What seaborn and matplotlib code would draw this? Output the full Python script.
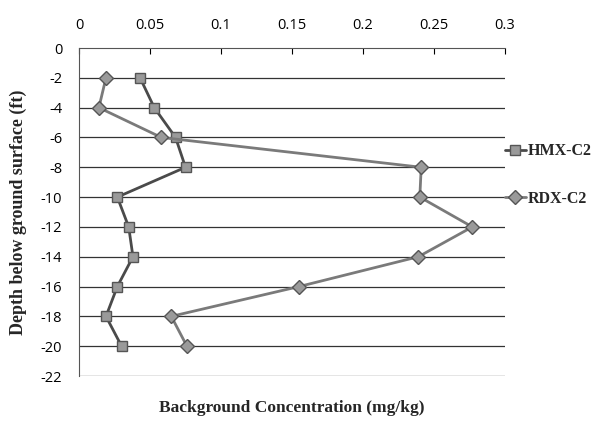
# depth profile of background HMX / RDX concentrations
import seaborn as sns
import pandas as pd
import matplotlib.pyplot as plt

depth = [-2, -4, -6, -8, -10, -12, -14, -16, -18, -20]
hmx = [0.043, 0.053, 0.068, 0.075, 0.027, 0.035, 0.038, 0.027, 0.019, 0.030]
rdx = [0.019, 0.014, 0.058, 0.241, 0.240, 0.277, 0.239, 0.155, 0.065, 0.076]
series = ["HMX-C2", "RDX-C2"]
xticks = [0, 0.05, 0.1, 0.15, 0.2, 0.25, 0.3]
xticklabels = ["0", "0.05", "0.1", "0.15", "0.2", "0.25", "0.3"]
yticks = list(range(0, -23, -2))

df = pd.DataFrame({
    "depth": depth * 2,
    "conc": hmx + rdx,
    "series": [series[0]] * len(depth) + [series[1]] * len(depth),
})

sns.set_style("white")
tick_font = ["Open Sans", "DejaVu Sans"]
label_font = ["Liberation Serif", "DejaVu Serif"]

fig = plt.figure(figsize=(5.94, 4.24), dpi=100)
ax = fig.add_axes([79/594, 1 - 376/424, 426/594, 328/424])

pal = {"HMX-C2": "#4a4a4a", "RDX-C2": "#7a7a7a"}
marks = {"HMX-C2": "s", "RDX-C2": "D"}
sns.lineplot(data=df, x="conc", y="depth", hue="series", style="series",
             palette=pal, markers=marks, dashes=False, sort=False,
             estimator=None, linewidth=2, markersize=7.5,
             markerfacecolor="#9a9a9a", markeredgecolor="#555555",
             markeredgewidth=1, ax=ax)

ax.set_xlim(0, 0.3)
ax.set_ylim(-22, 0)
ax.set_xticks(xticks)
ax.set_xticklabels(xticklabels, family=tick_font, fontsize=10.5)
ax.set_yticks(yticks)
ax.set_yticklabels([str(v) for v in yticks], family=tick_font, fontsize=10.5)
ax.xaxis.tick_top()
ax.tick_params(axis="x", direction="in", length=4, width=0.8, pad=11, colors="k")
ax.tick_params(axis="y", length=0, pad=12, colors="k")

for v in yticks[1:]:
    ax.axhline(v, color="#333333", linewidth=0.9, zorder=0)

for s in ["right", "bottom"]:
    ax.spines[s].set_visible(False)
for s in ["left", "top"]:
    ax.spines[s].set_color("#555555")
    ax.spines[s].set_linewidth(0.8)

ax.set_xlabel("")
ax.set_ylabel("")
fig.text(292/594, 1 - 408/424, "Background Concentration (mg/kg)",
         ha="center", va="center", family=label_font, fontweight="bold",
         fontsize=12.5)
fig.text(18/594, 1 - 212/424, "Depth below ground surface (ft)",
         ha="center", va="center", rotation=90, family=label_font,
         fontweight="bold", fontsize=13)

leg = ax.legend(loc="upper left", bbox_to_anchor=(1.0, 0.71), frameon=False,
                borderpad=0, borderaxespad=0,
                handlelength=1.3, handletextpad=0.1, labelspacing=2.0,
                prop={"family": label_font, "weight": "bold", "size": 11.5})

fig.savefig("out.png", dpi=100)
